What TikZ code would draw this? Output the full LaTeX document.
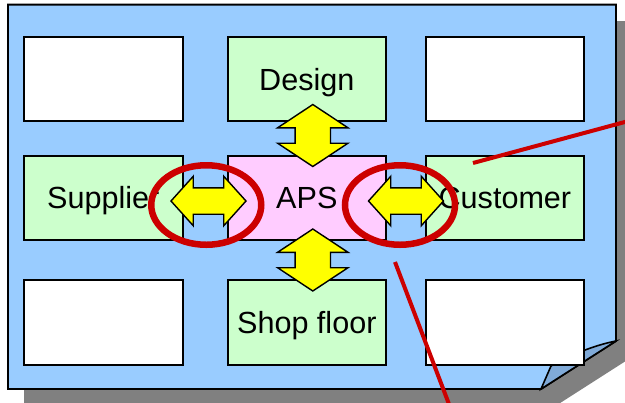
\documentclass[tikz,border=0pt]{standalone}
\usepackage{fontspec}
\setmainfont{Liberation Sans}
\usepackage{xcolor}
\usetikzlibrary{positioning}
\usetikzlibrary{shapes.geometric}
\usetikzlibrary{shapes.arrows}

\definecolor{pageblue}{HTML}{99CCFF}
\definecolor{flapblue}{HTML}{80AAD8}
\definecolor{shadowgray}{HTML}{808080}
\definecolor{cellgreen}{HTML}{CCFFCC}
\definecolor{cellpink}{HTML}{FFCCFF}
\definecolor{linkyellow}{HTML}{FFFF00}
\definecolor{markred}{HTML}{CC0000}

\begin{document}
\begin{tikzpicture}[
        every node/.style={font=\fontsize{17.4}{20}\selectfont},
        cell/.style={draw, line width=1.1pt, minimum width=3.17cm, minimum height=1.69cm,
                     inner sep=0pt, text height=12.5pt, text depth=0pt},
        hlink/.style={double arrow, draw, fill=linkyellow, line width=0.8pt, inner xsep=0pt,
                      inner ysep=0.25cm, double arrow head extend=0.23cm,
                      double arrow tip angle=96, minimum height=1.5cm},
        vlink/.style={double arrow, draw, fill=linkyellow, line width=0.8pt, inner xsep=0pt,
                      inner ysep=0.34cm, double arrow head extend=0.35cm,
                      double arrow tip angle=113, minimum height=1.24cm, rotate=90},
        ring/.style={ellipse, draw=markred, line width=0.13cm, inner sep=0pt,
                     minimum width=2.2cm, minimum height=1.59cm},
        callout/.style={draw=markred, line width=0.08cm}
    ]

    \useasboundingbox (0,0) rectangle (12.5,-8.04);
    \clip (0,0) rectangle (12.5,-8.04);

    % Sheet, its shadow and the turned-up corner
    \fill[shadowgray] (0.48,-0.42) -- (12.64,-0.42) -- (12.64,-7.14) -- (11.14,-8.10) -- (0.48,-8.10) -- cycle;
    \draw[fill=pageblue, line width=1.1pt] (0.16,-0.094) -- (12.32,-0.094) -- (12.32,-6.82) -- (10.82,-7.78) -- (0.16,-7.78) -- cycle;
    \draw[fill=flapblue, line width=0.9pt] (10.82,-7.78) -- (11.02,-7.32) .. controls (11.4,-7.1) and (11.9,-6.9) .. (12.32,-6.82) -- cycle;

    % Nodes
    \node at (2.066,-1.584) (blankNW) [cell, fill=white] {};
    \node at (6.136,-1.584) (design) [cell, fill=cellgreen] {Design};
    \node at (10.098,-1.584) (blankNE) [cell, fill=white] {};
    \node at (2.066,-3.958) (supplier) [cell, fill=cellgreen] {Supplier};
    \node at (6.136,-3.958) (aps) [cell, fill=cellpink] {APS};
    \node at (10.098,-3.958) (customer) [cell, fill=cellgreen] {Customer};
    \node at (2.066,-6.45) (blankSW) [cell, fill=white] {};
    \node at (6.136,-6.45) (shop) [cell, fill=cellgreen] {Shop floor};
    \node at (10.098,-6.45) (blankSE) [cell, fill=white] {};

    % Links between APS and its neighbours
    \node at (6.256,-2.71) (linkDesign) [vlink] {};
    \node at (6.256,-5.2) (linkShop) [vlink] {};
    \node at (4.17,-4.02) (linkSupplier) [hlink] {};
    \node at (8.12,-4.02) (linkCustomer) [hlink] {};

    % Marked interfaces
    \node at (4.125,-4.1) (ringSupplier) [ring] {};
    \node at (8.0,-4.1) (ringCustomer) [ring] {};

    % Callout lines
    \coordinate (calloutA) at (9.46,-3.26);
    \coordinate (calloutAend) at (13.2,-2.25);
    \coordinate (calloutB) at (7.9,-5.24);
    \coordinate (calloutBend) at (9.1,-8.4);
    \draw[callout] (calloutA) -- (calloutAend);
    \draw[callout] (calloutB) -- (calloutBend);

\end{tikzpicture}
\end{document}
